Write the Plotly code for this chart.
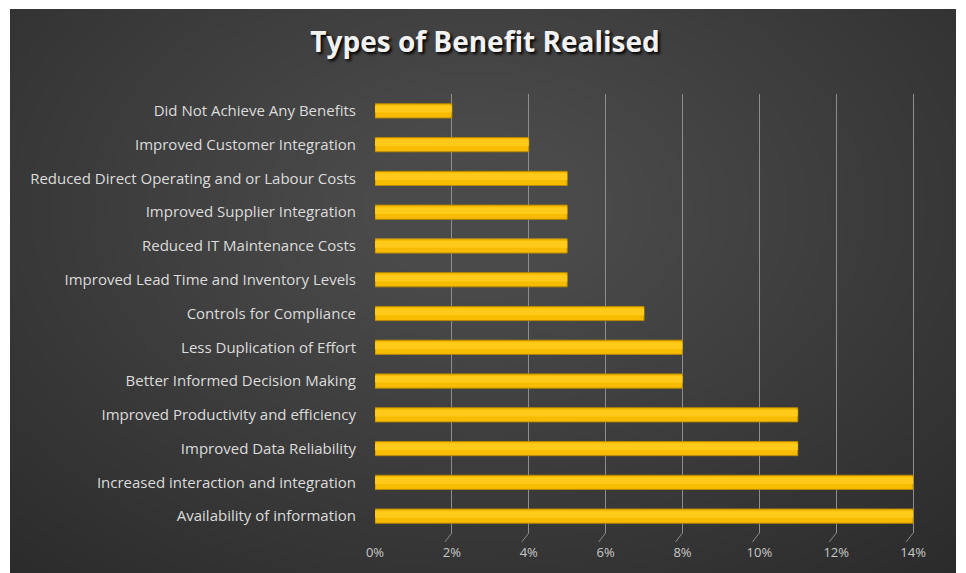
import plotly.graph_objects as go

categories = [
    "Did Not Achieve Any Benefits",
    "Improved Customer Integration",
    "Reduced Direct Operating and or Labour Costs",
    "Improved Supplier Integration",
    "Reduced IT Maintenance Costs",
    "Improved Lead Time and Inventory Levels",
    "Controls for Compliance",
    "Less Duplication of Effort",
    "Better Informed Decision Making",
    "Improved Productivity and efficiency",
    "Improved Data Reliability",
    "Increased interaction and integration",
    "Availability of information",
]
values = [2, 4, 5, 5, 5, 5, 7, 8, 8, 11, 11, 14, 14]
tick_vals = [0, 2, 4, 6, 8, 10, 12, 14]
tick_text = ["0%", "2%", "4%", "6%", "8%", "10%", "12%", "14%"]
title_text = "Types of Benefit Realised"

# figure is placed at page offset (8, 8) by the default body margin
W, H = 948, 565
L, T = 367, 86
R = W - 907
B = H - 525
pw, ph = W - L - R, H - T - B

def px_x(p):
    return (p - L) / pw

def px_y(p):
    return (H - B - p) / ph

fig = go.Figure()

fig.add_trace(go.Bar(
    y=categories, x=values, orientation="h",
    marker=dict(color="#F7BC00", line=dict(color="#B88A00", width=1)),
    width=0.42, hoverinfo="x+y",
))
fig.add_trace(go.Bar(
    y=categories, x=values, orientation="h",
    marker=dict(color="#FFCA1A", line=dict(width=0)),
    width=0.2, offset=-0.05, hoverinfo="skip",
))

shapes = []
# soft radial gradient from layered ellipses
cx, cy = 470, 200
n = 36
for i in range(n):
    f = 1 - i / n
    rx, ry = 700 * f, 480 * f
    shapes.append(dict(type="circle", xref="paper", yref="paper",
                       x0=px_x(cx - rx), x1=px_x(cx + rx),
                       y0=px_y(cy + ry), y1=px_y(cy - ry),
                       fillcolor="rgba(120,120,120,0.028)", line=dict(width=0),
                       layer="below"))
# small white strip at the top-left edges like the reference crop
shapes.append(dict(type="rect", xref="paper", yref="paper",
                   x0=px_x(0), x1=px_x(2), y0=px_y(H), y1=px_y(0),
                   fillcolor="white", line=dict(width=0), layer="below"))
shapes.append(dict(type="rect", xref="paper", yref="paper",
                   x0=px_x(0), x1=px_x(W), y0=px_y(1), y1=px_y(0),
                   fillcolor="white", line=dict(width=0), layer="below"))
# slanted 3D floor ticks
dx = 7 * 14 / pw
for tv in tick_vals:
    shapes.append(dict(type="line", xref="x", yref="paper",
                       x0=tv, x1=tv - dx, y0=0, y1=px_y(H - B + 9),
                       line=dict(color="#8a8a8a", width=1)))

fig.update_layout(
    width=W, height=H,
    margin=dict(l=L, r=R, t=T, b=B, pad=0),
    paper_bgcolor="#2b2b2b",
    plot_bgcolor="rgba(0,0,0,0)",
    barmode="overlay",
    showlegend=False,
    shapes=shapes,
    title=dict(text="<b>" + title_text + "</b>", x=477 / W, xref="container", xanchor="center",
               y=1 - 34 / H, yanchor="middle",
               font=dict(family="Open Sans, sans-serif", size=28, color="#f2f2f2",
                         shadow="2px 2px 3px #000000")),
    font=dict(family="Open Sans, sans-serif"),
)

fig.update_xaxes(
    range=[0, 14.05], tickvals=tick_vals, ticktext=tick_text,
    showgrid=True, gridcolor="#8e8e8e", gridwidth=1,
    zeroline=False, showline=False, ticks="",
    ticklabelstandoff=10,
    tickfont=dict(size=13, color="#c8c8c8", family="Open Sans, sans-serif"),
)
fig.update_yaxes(
    categoryorder="array", categoryarray=categories[::-1],
    autorange=False, range=[-0.5, len(categories) - 0.5],
    showgrid=False, zeroline=False, showline=False, ticks="",
    ticklabelstandoff=18,
    tickfont=dict(size=15, color="#dcdcdc", family="Open Sans, sans-serif"),
)

fig.write_html("out.html")
